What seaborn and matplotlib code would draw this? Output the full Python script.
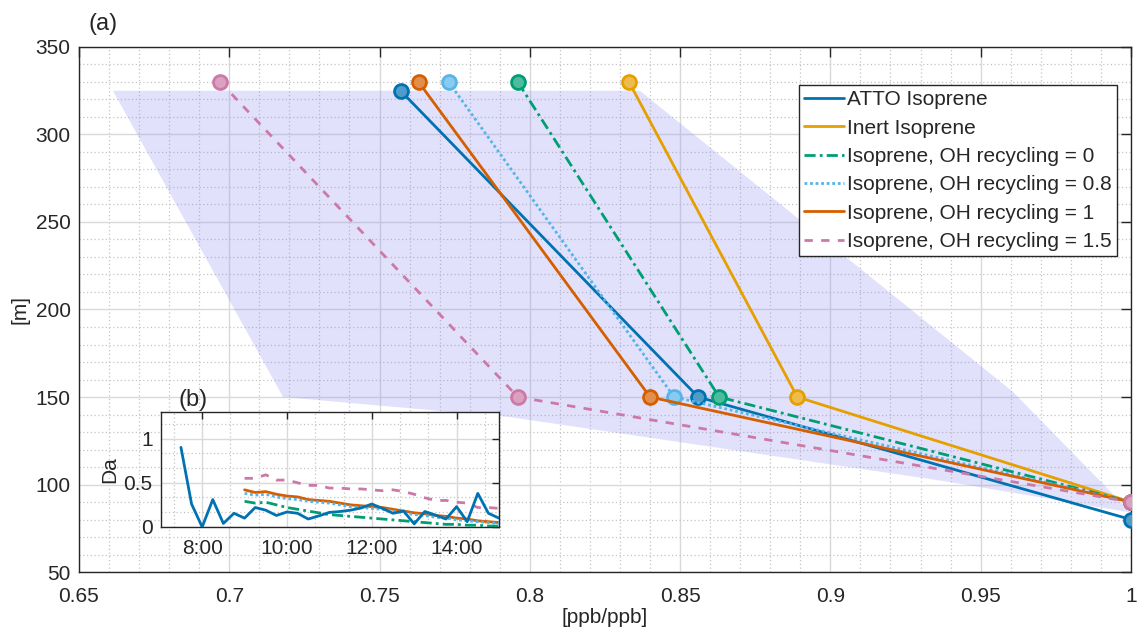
import numpy as np
import pandas as pd
import matplotlib
matplotlib.use("Agg")
import matplotlib.pyplot as plt
from matplotlib.ticker import MultipleLocator, AutoMinorLocator, FuncFormatter
import seaborn as sns

# ---------------- data: profiles ----------------
series_names = ["ATTO Isoprene", "Inert Isoprene", "Isoprene, OH recycling = 0",
                "Isoprene, OH recycling = 0.8", "Isoprene, OH recycling = 1",
                "Isoprene, OH recycling = 1.5"]
atto_x = [0.757, 0.856, 1.0]
atto_z = [325, 150, 80]
inert_x = [0.833, 0.889, 1.0]
inert_z = [330, 150, 90]
oh0_x = [0.796, 0.863, 1.0]
oh0_z = [330, 150, 90]
oh08_x = [0.773, 0.848, 1.0]
oh08_z = [330, 150, 90]
oh1_x = [0.763, 0.840, 1.0]
oh1_z = [330, 150, 90]
oh15_x = [0.697, 0.796, 1.0]
oh15_z = [330, 150, 90]

# shaded envelope
env_x = [0.6613, 0.8366, 0.9607, 1.0, 0.9376, 0.7934, 0.7179]
env_z = [325, 325, 153, 84, 102, 138.5, 150]

# ---------------- data: inset (Da) ----------------
t_atto = ["7:30", "7:45", "8:00", "8:15", "8:30", "8:45", "9:00", "9:15", "9:30", "9:45",
          "10:00", "10:15", "10:30", "10:45", "11:00", "11:15", "11:30", "11:45", "12:00",
          "12:15", "12:30", "12:45", "13:00", "13:15", "13:30", "13:45", "14:00", "14:15",
          "14:30", "14:45", "15:00"]
da_atto = [0.90, 0.26, 0.00, 0.31, 0.04, 0.155, 0.10, 0.22, 0.19, 0.13,
           0.17, 0.155, 0.09, 0.125, 0.165, 0.175, 0.19, 0.215, 0.26,
           0.21, 0.155, 0.18, 0.035, 0.175, 0.135, 0.09, 0.23, 0.06,
           0.38, 0.155, 0.10]
t_model = ["9:00", "9:15", "9:30", "9:45", "10:00", "10:15", "10:30", "10:45", "11:00",
           "11:15", "11:30", "11:45", "12:00", "12:15", "12:30", "12:45", "13:00", "13:15",
           "13:30", "13:45", "14:00", "14:15", "14:30", "14:45", "15:00"]
da_oh0 = [0.29, 0.27, 0.28, 0.25, 0.22, 0.20, 0.18, 0.16, 0.14, 0.13, 0.12, 0.11, 0.10,
          0.09, 0.08, 0.07, 0.06, 0.05, 0.04, 0.03, 0.03, 0.02, 0.02, 0.01, 0.01]
da_oh08 = [0.38, 0.36, 0.37, 0.34, 0.32, 0.31, 0.29, 0.28, 0.27, 0.25, 0.23, 0.22, 0.21,
           0.20, 0.18, 0.16, 0.14, 0.13, 0.11, 0.10, 0.08, 0.07, 0.06, 0.05, 0.04]
da_oh1 = [0.42, 0.39, 0.40, 0.37, 0.35, 0.34, 0.31, 0.30, 0.29, 0.27, 0.25, 0.24, 0.23,
          0.22, 0.20, 0.18, 0.16, 0.15, 0.13, 0.12, 0.10, 0.09, 0.07, 0.06, 0.05]
da_oh15 = [0.55, 0.55, 0.59, 0.53, 0.53, 0.50, 0.47, 0.47, 0.44, 0.44, 0.43, 0.43, 0.42,
           0.41, 0.42, 0.40, 0.37, 0.33, 0.30, 0.30, 0.28, 0.27, 0.22, 0.22, 0.21]

inset_xticks = [8, 10, 12, 14]


def to_hours(labels):
    out = []
    for s in labels:
        h, m = s.split(":")
        out.append(int(h) + int(m) / 60.0)
    return out


# ---------------- style ----------------
sns.set_style("white")
plt.rcParams["font.family"] = ["Liberation Sans", "DejaVu Sans"]
dark = "#262626"
plt.rcParams["text.color"] = dark
plt.rcParams["axes.labelcolor"] = dark
plt.rcParams["xtick.color"] = dark
plt.rcParams["ytick.color"] = dark

FS = 15
colors = ["#0072B2", "#E69F00", "#009E73", "#56B4E9", "#D55E00", "#CC79A7"]
styles = ["-", "-", (0, (4, 1.5, 1, 1.5)), (0, (1, 1)), "-", (0, (3, 3))]
xs = [atto_x, inert_x, oh0_x, oh08_x, oh1_x, oh15_x]
zs = [atto_z, inert_z, oh0_z, oh08_z, oh1_z, oh15_z]


def lighten(c, f=0.3):
    r, g, b = matplotlib.colors.to_rgb(c)
    return (r + (1 - r) * f, g + (1 - g) * f, b + (1 - b) * f)


fig = plt.figure(figsize=(11.38, 6.35), dpi=100)
ax = fig.add_axes([0.0694, 0.0992, 0.9244, 0.8268])

ax.fill(env_x, env_z, color=(0.55, 0.55, 0.95), alpha=0.26, lw=0, zorder=1)

for name, c, ls, x, z in zip(series_names, colors, styles, xs, zs):
    df = pd.DataFrame({"x": x, "z": z})
    sns.lineplot(data=df, x="x", y="z", ax=ax, sort=False, estimator=None,
                 color=c, linestyle=ls, lw=2.0, marker="o", markersize=10,
                 markerfacecolor=lighten(c), markeredgecolor=c, markeredgewidth=2,
                 label=name, zorder=3)

ax.set_xlim(0.65, 1.0)
ax.set_ylim(50, 350)
ax.xaxis.set_major_locator(MultipleLocator(0.05))
ax.xaxis.set_minor_locator(MultipleLocator(0.01))
ax.yaxis.set_major_locator(MultipleLocator(50))
ax.yaxis.set_minor_locator(MultipleLocator(10))
ax.xaxis.set_major_formatter(FuncFormatter(lambda v, p: f"{v:g}"))
ax.grid(True, which="major", color="#d9d9d9", lw=1.0, ls="-")
ax.grid(True, which="minor", color="#c4c4c4", lw=0.9, ls=(0, (1, 2)))
ax.set_axisbelow(True)
ax.tick_params(which="major", direction="in", length=7, width=1, labelsize=FS,
               top=True, right=True)
ax.tick_params(axis="x", which="major", pad=11)
ax.tick_params(axis="y", which="major", pad=6)
ax.tick_params(which="minor", length=0)
for s in ax.spines.values():
    s.set_color(dark)
    s.set_linewidth(1.0)
ax.set_xlabel("[ppb/ppb]", fontsize=FS, labelpad=1)
ax.set_ylabel("[m]", fontsize=FS, labelpad=4)

# legend handles (lines only)
leg_handles = [matplotlib.lines.Line2D([], [], color=c, linestyle=ls, lw=2.0)
               for c, ls in zip(colors, styles)]
if ax.get_legend() is not None:
    ax.get_legend().remove()
leg = ax.legend(leg_handles, series_names, loc="upper right",
                bbox_to_anchor=(0.9867, 0.9276),
                fontsize=FS, frameon=True, fancybox=False, framealpha=1,
                edgecolor=dark, handlelength=1.9, handletextpad=0.15,
                labelspacing=0.45, borderpad=0.25, borderaxespad=0)
leg.get_frame().set_linewidth(1.0)

fig.text(0.0905, 0.962, "(a)", fontsize=17, ha="center", va="center")

# ---------------- inset ----------------
axi = fig.add_axes([0.1415, 0.1701, 0.2970, 0.1811])
axi.set_facecolor("white")
inset_sets = [
    (t_atto, da_atto, colors[0], styles[0]),
    (t_model, da_oh0, colors[2], styles[2]),
    (t_model, da_oh08, colors[3], styles[3]),
    (t_model, da_oh1, colors[4], styles[4]),
    (t_model, da_oh15, colors[5], styles[5]),
]
for k in [4, 3, 2, 1, 0]:
    t, v, c, ls = inset_sets[k]
    dfi = pd.DataFrame({"t": to_hours(t), "v": v})
    sns.lineplot(data=dfi, x="t", y="v", ax=axi, sort=False, estimator=None,
                 color=c, linestyle=ls, lw=2.0, zorder=3 + (k == 0))
axi.set_xlim(7.03, 15.0)
axi.set_ylim(0, 1.3)
axi.set_xticks(inset_xticks)
axi.xaxis.set_major_formatter(FuncFormatter(lambda v, p: f"{int(v)}:00"))
axi.xaxis.set_minor_locator(AutoMinorLocator(3))
axi.set_yticks([0, 0.5, 1])
axi.yaxis.set_major_formatter(FuncFormatter(lambda v, p: f"{v:g}"))
axi.yaxis.set_minor_locator(AutoMinorLocator(3))
axi.grid(True, which="major", color="#d9d9d9", lw=1.0, ls="-")
axi.grid(True, which="minor", color="#c4c4c4", lw=0.9, ls=(0, (1, 2)))
axi.set_axisbelow(True)
axi.tick_params(which="major", direction="in", length=5, width=1, labelsize=FS,
                top=True, right=True)
axi.tick_params(axis="x", which="major", pad=9)
axi.tick_params(axis="y", which="major", pad=6)
axi.tick_params(which="minor", length=0)
for s in axi.spines.values():
    s.set_color(dark)
    s.set_linewidth(1.0)
axi.set_xlabel("")
axi.set_ylabel("Da", fontsize=FS, labelpad=3)
if axi.get_legend() is not None:
    axi.get_legend().remove()

fig.text(0.1696, 0.370, "(b)", fontsize=17, ha="center", va="center")

fig.savefig("out.png", dpi=100)
